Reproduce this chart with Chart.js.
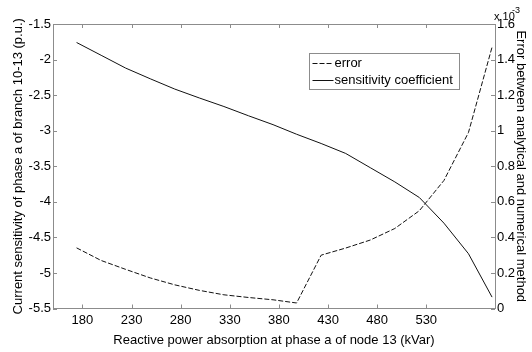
<!DOCTYPE html>
<html>
<head>
<meta charset="utf-8">
<script src="https://cdn.jsdelivr.net/npm/chart.js@4.4.1/dist/chart.umd.min.js"></script>
<style>
  html, body { margin: 0; padding: 0; background: #fff; }
  #wrap { width: 532px; height: 352px; }
</style>
</head>
<body>
<div id="wrap"><canvas id="chart" width="532" height="352"></canvas></div>
<script>
// reactive power absorbed at phase a of node 13 (kVar)
const absorption = [174, 199, 224, 249, 274, 299, 324, 349, 374, 398, 423, 448, 473, 498, 523, 548, 573, 597];
// current sensitivity of branch 10-13, phase a (p.u.)
const sensitivity = [-1.76, -1.94, -2.12, -2.27, -2.415, -2.54, -2.66, -2.79, -2.915, -3.05,
  -3.18, -3.32, -3.52, -3.72, -3.94, -4.30, -4.73, -5.34];
// analytical vs numerical error (x 1e-3)
const errorVals = [0.341, 0.27, 0.22, 0.172, 0.133, 0.102, 0.077, 0.062, 0.049, 0.031,
  0.30, 0.34, 0.385, 0.45, 0.55, 0.72, 0.99, 1.47];

const xTicks = [180, 230, 280, 330, 380, 430, 480, 530];
const leftTicks = [-5.5, -5, -4.5, -4, -3.5, -3, -2.5, -2, -1.5];
const rightTicks = [0, 0.2, 0.4, 0.6, 0.8, 1, 1.2, 1.4, 1.6];

const AXIS_COLOR = "#8c8c8c";
const LINE_COLOR = "#111";
const FONT = "Liberation Sans, Arial, sans-serif";

function toPoints(xs, ys) {
  return xs.map((x, i) => ({ x: x, y: ys[i] }));
}

function fixedTicks(values) {
  return (scale) => {
    scale.ticks = values.map((v) => ({ value: v }));
  };
}

// inward tick marks on all four sides plus the top frame line
const frameTicks = {
  id: "frameTicks",
  afterDatasetsDraw(chart) {
    const { ctx, chartArea: a, scales } = chart;
    const len = 4;
    ctx.save();
    ctx.strokeStyle = AXIS_COLOR;
    ctx.lineWidth = 1;
    ctx.beginPath();
    ctx.moveTo(a.left, Math.round(a.top) + 0.5);
    ctx.lineTo(a.right, Math.round(a.top) + 0.5);
    scales.x.ticks.forEach((t) => {
      const px = Math.round(scales.x.getPixelForValue(t.value)) + 0.5;
      ctx.moveTo(px, a.bottom);
      ctx.lineTo(px, a.bottom - len);
      ctx.moveTo(px, a.top);
      ctx.lineTo(px, a.top + len);
    });
    scales.y.ticks.forEach((t) => {
      const py = Math.round(scales.y.getPixelForValue(t.value)) + 0.5;
      ctx.moveTo(a.left, py);
      ctx.lineTo(a.left + len, py);
    });
    scales.y1.ticks.forEach((t) => {
      const py = Math.round(scales.y1.getPixelForValue(t.value)) + 0.5;
      ctx.moveTo(a.right, py);
      ctx.lineTo(a.right - len, py);
    });
    ctx.stroke();

    // exponent note above the right axis
    ctx.fillStyle = "#000";
    ctx.textBaseline = "alphabetic";
    ctx.font = "11px " + FONT;
    ctx.fillText("x 10", a.right - 1, a.top - 4);
    ctx.font = "9px " + FONT;
    ctx.fillText("-3", a.right + 17, a.top - 11);
    ctx.restore();
  },
};

// boxed legend inside the plot, top right
const boxLegend = {
  id: "boxLegend",
  afterDraw(chart) {
    const { ctx } = chart;
    const box = { x: 309.5, y: 53.5, w: 150, h: 36 };
    ctx.save();
    ctx.fillStyle = "#fff";
    ctx.fillRect(box.x, box.y, box.w, box.h);
    ctx.strokeStyle = AXIS_COLOR;
    ctx.lineWidth = 1;
    ctx.strokeRect(box.x, box.y, box.w, box.h);
    ctx.font = "13px " + FONT;
    ctx.textBaseline = "middle";
    ctx.fillStyle = "#000";
    chart.data.datasets.forEach((ds, i) => {
      const y = box.y + 10 + i * 17;
      ctx.strokeStyle = LINE_COLOR;
      ctx.setLineDash(ds.borderDash || []);
      ctx.beginPath();
      ctx.moveTo(box.x + 3, y);
      ctx.lineTo(box.x + 24, y);
      ctx.stroke();
      ctx.setLineDash([]);
      ctx.fillText(ds.label, box.x + 25, y);
    });
    ctx.restore();
  },
};

const tickFont = { family: FONT, size: 13 };
const titleFont = { family: FONT, size: 13 };

new Chart(document.getElementById("chart"), {
  type: "line",
  data: {
    datasets: [
      {
        label: "error",
        data: toPoints(absorption, errorVals),
        yAxisID: "y1",
        borderColor: LINE_COLOR,
        borderWidth: 1,
        borderDash: [5, 2],
        pointRadius: 0,
        tension: 0,
      },
      {
        label: "sensitivity coefficient",
        data: toPoints(absorption, sensitivity),
        yAxisID: "y",
        borderColor: LINE_COLOR,
        borderWidth: 1,
        pointRadius: 0,
        tension: 0,
      },
    ],
  },
  options: {
    responsive: false,
    animation: false,
    devicePixelRatio: 1,
    layout: { padding: { top: 24, left: 0, right: 0, bottom: 0 } },
    plugins: { legend: { display: false }, tooltip: { enabled: false } },
    scales: {
      x: {
        type: "linear",
        min: 150,
        max: 600,
        afterBuildTicks: fixedTicks(xTicks),
        afterFit: (s) => { s.height = 43.5; },
        grid: { display: false, drawTicks: false },
        border: { color: AXIS_COLOR },
        ticks: { color: "#000", font: tickFont, padding: 4, maxRotation: 0 },
        title: {
          display: true,
          text: "Reactive power absorption at phase a of node 13 (kVar)",
          color: "#000",
          font: titleFont,
          padding: { top: 0, bottom: 4 },
        },
      },
      y: {
        position: "left",
        min: -5.5,
        max: -1.5,
        afterBuildTicks: fixedTicks(leftTicks),
        afterFit: (s) => { s.width = 53; },
        grid: { display: false, drawTicks: false },
        border: { color: AXIS_COLOR },
        ticks: { color: "#000", font: tickFont, padding: 2, callback: (v) => String(v) },
        title: {
          display: true,
          text: "Current sensitivity of phase a of branch 10-13 (p.u.)",
          color: "#000",
          font: titleFont,
          padding: { top: 11, bottom: 0 },
        },
      },
      y1: {
        position: "right",
        min: 0,
        max: 1.6,
        afterBuildTicks: fixedTicks(rightTicks),
        afterFit: (s) => { s.width = 37; },
        grid: { display: false, drawTicks: false },
        border: { color: AXIS_COLOR },
        ticks: { color: "#000", font: tickFont, padding: 2, callback: (v) => String(+v.toFixed(1)) },
        title: {
          display: true,
          text: "Error between analytical and numerical method",
          color: "#000",
          font: titleFont,
          padding: { top: 4, bottom: 0 },
        },
      },
    },
  },
  plugins: [frameTicks, boxLegend],
});
</script>
</body>
</html>
